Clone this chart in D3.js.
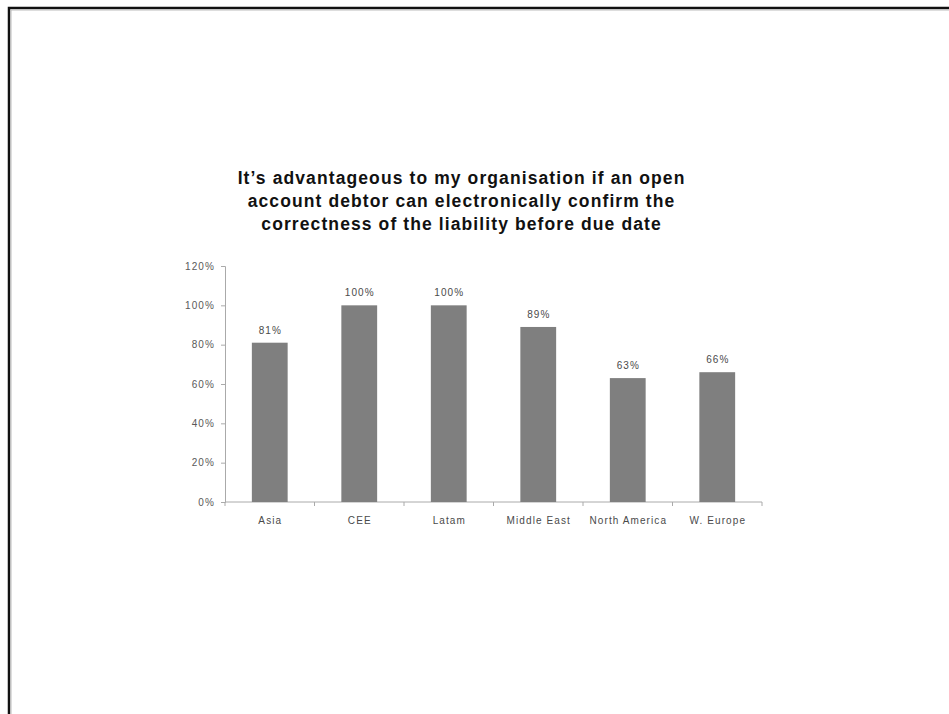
<!DOCTYPE html>
<html>
<head>
<meta charset="utf-8">
<script src="https://cdn.jsdelivr.net/npm/d3@7"></script>
<style>
  html, body { margin: 0; padding: 0; background: #fff; }
  svg { display: block; }
</style>
</head>
<body>
<svg id="chart" width="949" height="714"></svg>
<script>
// Survey result per region
const categories = ["Asia", "CEE", "Latam", "Middle East", "North America", "W. Europe"];
const values = [81, 100, 100, 89, 63, 66];
const yTicks = [0, 20, 40, 60, 80, 100, 120];
const titleLines = [
  "It\u2019s advantageous to my organisation if an open",
  "account debtor can electronically confirm the",
  "correctness of the liability before due date"
];

const svg = d3.select("#chart");
const W = 949, H = 714;

// page frame (top and left edges visible)
svg.append("rect")
  .attr("x", 9).attr("y", 8)
  .attr("width", W + 20).attr("height", H + 20)
  .attr("fill", "none").attr("stroke", "#111").attr("stroke-width", 2.5);
svg.append("rect")
  .attr("x", 11).attr("y", 10)
  .attr("width", W + 20).attr("height", H + 20)
  .attr("fill", "none").attr("stroke", "#bbb").attr("stroke-width", 1);

const plot = { left: 225, right: 762, top: 266, bottom: 502 };

const x = d3.scaleBand()
  .domain(categories)
  .range([plot.left, plot.right])
  .paddingInner(0.6)
  .paddingOuter(0.3);

const y = d3.scaleLinear()
  .domain([0, 120])
  .range([plot.bottom, plot.top]);

const labelFont = "'Liberation Sans', Arial, sans-serif";
const labelSpacing = 1.1;
const titleSpacing = 1.1;

// Title
const title = svg.append("text")
  .attr("text-anchor", "middle")
  .attr("font-family", labelFont)
  .attr("font-weight", "bold")
  .attr("font-size", 17.5)
  .attr("letter-spacing", titleSpacing)
  .attr("fill", "#111");
titleLines.forEach((t, i) => {
  title.append("tspan")
    .attr("x", 461 + titleSpacing / 2)
    .attr("y", 184 + i * 23)
    .text(t);
});

// Y axis
const yAxis = svg.append("g")
  .attr("transform", `translate(${plot.left},0)`)
  .call(d3.axisLeft(y).tickValues(yTicks).tickFormat(d => d + "%").tickSize(4).tickPadding(6));
yAxis.selectAll("path, line").attr("stroke", "#aaa");
yAxis.selectAll("text")
  .attr("font-family", labelFont)
  .attr("font-size", 10)
  .attr("letter-spacing", labelSpacing)
  .attr("fill", "#595959");

// X axis: line with ticks at the category boundaries
const xAxisG = svg.append("g");
xAxisG.append("line")
  .attr("x1", plot.left).attr("x2", plot.right)
  .attr("y1", y(0)).attr("y2", y(0))
  .attr("stroke", "#aaa");
const boundaries = d3.range(categories.length + 1).map(i => plot.left + i * (plot.right - plot.left) / categories.length);
xAxisG.selectAll("line.tick")
  .data(boundaries)
  .join("line")
  .attr("class", "tick")
  .attr("x1", d => d).attr("x2", d => d)
  .attr("y1", y(0)).attr("y2", y(0) + 4)
  .attr("stroke", "#aaa");

// Bars
svg.append("g")
  .selectAll("rect")
  .data(values)
  .join("rect")
  .attr("x", (d, i) => x(categories[i]))
  .attr("y", d => y(d))
  .attr("width", x.bandwidth())
  .attr("height", d => y(0) - y(d))
  .attr("fill", "#7f7f7f");

// Value labels
svg.append("g")
  .selectAll("text")
  .data(values)
  .join("text")
  .attr("x", (d, i) => x(categories[i]) + x.bandwidth() / 2 + labelSpacing / 2)
  .attr("y", d => y(d) - 9)
  .attr("text-anchor", "middle")
  .attr("font-family", labelFont)
  .attr("font-size", 10)
  .attr("letter-spacing", labelSpacing)
  .attr("fill", "#4a4a4a")
  .text(d => d + "%");

// Category labels
svg.append("g")
  .selectAll("text")
  .data(categories)
  .join("text")
  .attr("x", d => x(d) + x.bandwidth() / 2 + labelSpacing / 2)
  .attr("y", y(0) + 22)
  .attr("text-anchor", "middle")
  .attr("font-family", labelFont)
  .attr("font-size", 10)
  .attr("letter-spacing", labelSpacing)
  .attr("fill", "#4a4a4a")
  .text(d => d);
</script>
</body>
</html>
